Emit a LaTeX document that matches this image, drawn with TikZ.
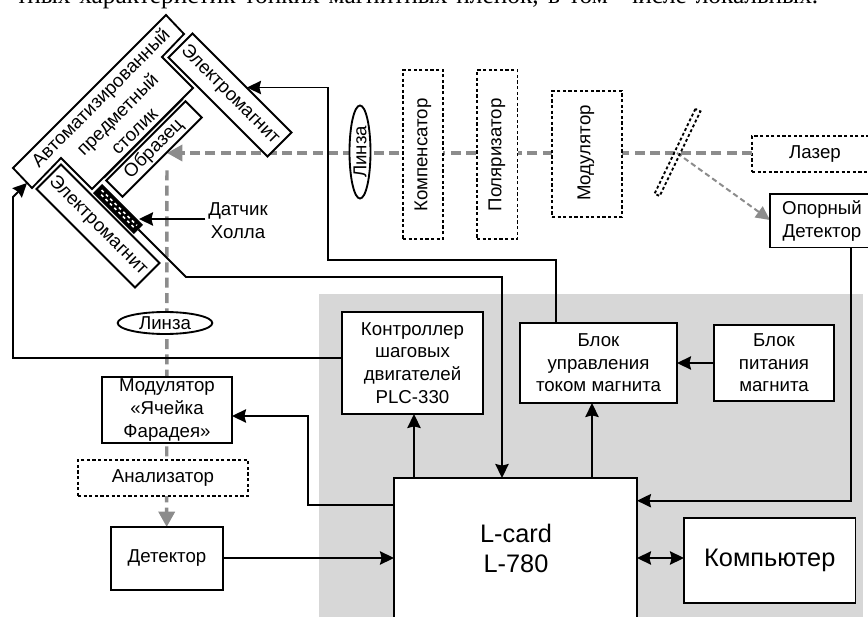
\documentclass[tikz,border=0pt]{standalone}
\usepackage{fontspec}
\setmainfont{Liberation Sans}
\newfontfamily\topfont{Liberation Serif}
\usetikzlibrary{arrows.meta,shapes.geometric,calc}
\definecolor{panel}{HTML}{D7D7D7}
\definecolor{beamgray}{HTML}{8C8C8C}
\tikzset{
  lab/.style={font=\fontsize{14}{17}\selectfont,align=center,inner sep=0pt,outer sep=0pt},
  bigb/.style={lab,draw=black,line width=1.4pt,fill=white,font=\fontsize{19}{22.5}\selectfont},
  solidb/.style={lab,draw=black,line width=1.4pt,fill=white},
  dotb/.style={lab,draw=black,line width=1.4pt,fill=white,dash pattern=on 2.4pt off 1.8pt},
  conn/.style={draw=black,line width=1.4pt,line join=miter},
  arr/.style={conn,-{Stealth[length=10.5pt,width=10pt,inset=1.2pt]}},
  barr/.style={conn,{Stealth[length=10.5pt,width=10pt,inset=1.2pt]}-{Stealth[length=10.5pt,width=10pt,inset=1.2pt]}},
  beam/.style={draw=beamgray,line width=2.6pt,dash pattern=on 7.5pt off 4pt,-{Triangle[length=11.5pt,width=12pt,fill=beamgray]}},
  beamthin/.style={draw=beamgray,line width=1.5pt,dash pattern=on 4pt off 2.5pt,-{Triangle[length=10.5pt,width=10pt,fill=beamgray]}},
}
\newcommand{\bx}[7]{%
  \pgfmathsetmacro\mw{(#4-#2)*0.75}\pgfmathsetmacro\mh{(#5-#3)*0.75}%
  \node[#6,minimum width=\mw pt,minimum height=\mh pt] (#1) at ({(#2+#4)/2},{(#3+#5)/2}) {#7};}
\begin{document}
\begin{tikzpicture}[x=0.75pt,y=-0.75pt]
\useasboundingbox (0,0) rectangle (868,617);
\clip (0,0) rectangle (868,617);
% cropped line of body text
\node[anchor=base west,inner sep=0pt] (bodytext) at (16,4) {\topfont\fontsize{19}{22}\selectfont\hbox to 601.5pt{тных характеристик тонких магнитных пленок, в том\ \ числе локальных.}};
% grey panel
\fill[panel] (319,294) rectangle (863,617);
% named points for beams and connectors
\coordinate (beamend) at (167,153);
\coordinate (mirrorc) at (677,153);
\coordinate (refin) at (770,220);
\bx{laser}{752}{136}{874}{172}{dotb}{}
\node[lab] (lasertext) at (815,154) {Лазер};
% beams
\draw[beam] (laser.west |- beamend) -- (beamend);
\draw[beam,shorten <=13pt] (beamend) -- (166.7,527);
\draw[beamthin] (mirrorc) -- (refin);
% optical elements
\node[ellipse,draw=black,line width=1.4pt,fill=white,inner sep=0pt,minimum width=93pt*0.75,minimum height=21pt*0.75,rotate=90] (lensA) at (360,152) {};
\node[lab,rotate=90] (lensAt) at (360,152) {Линза};
\bx{comp}{403}{70}{443}{239}{dotb}{}
\node[lab,rotate=90] (compt) at (423,155) {Компенсатор};
\bx{pol}{477}{70}{517.5}{239}{dotb}{}
\node[lab,rotate=90] (polt) at (497,155) {Поляризатор};
\bx{mod}{552}{91}{622}{217}{dotb}{}
\node[lab,rotate=90] (modt) at (586,153) {Модулятор};
\node[draw=black,line width=1.4pt,dash pattern=on 2.2pt off 1.8pt,inner sep=0pt,minimum width=70.5pt,minimum height=4.2pt,rotate=64.3] (mirror) at (677.5,152.5) {};
\bx{ref}{770}{194}{874}{247.5}{solidb}{}
\node[lab] (reft) at (822,221) {Опорный\\Детектор};
% stage
\draw[line width=1.4pt,fill=white,line join=miter] (166,15) -- (184,34) -- (162,57) -- (193,88) -- (92,189) -- (61,158) -- (32,188) -- (13,168) -- cycle;
\node[lab,rotate=45,font=\fontsize{14}{17.8}\selectfont] (stage) at (117,114) {Автоматизированный\\предметный\\столик};
\node[solidb,rotate=-45,minimum width=105pt,minimum height=25.5pt] (magA) at (230,95) {Электромагнит};
\node[solidb,rotate=-45,minimum width=104.5pt,minimum height=26pt] (magB) at (98,226) {Электромагнит};
\node[solidb,rotate=45,minimum width=84pt,minimum height=17.3pt] (sample) at (154,149) {Образец};
\coordinate (sa) at (183,99);
\coordinate (sb) at (104,178);
\draw[line width=0.9pt] (sa) -- (sb);
% Hall sensor
\node[draw=black,fill=black,line width=0.8pt,rotate=-45,minimum width=42.5pt,minimum height=9pt,inner sep=0pt] (hall) at (118,209) {};
\begin{scope}[shift={(hall.center)},rotate=-45]
\draw[white,line width=1.2pt,dash pattern=on 2.2pt off 2.4pt] (-25,-1.8) -- (25,-1.8);
\draw[white,line width=1.2pt,dash pattern=on 2.2pt off 2.4pt,dash phase=2.3pt] (-25,1.8) -- (25,1.8);
\end{scope}
\node[lab] (hallt) at (238,221) {Датчик\\Холла};
\coordinate (hallin) at (139,219);
% lower boxes
\node[ellipse,draw=black,line width=1.4pt,fill=white,inner sep=0pt,minimum width=71pt,minimum height=16.5pt] (lensB) at (165,323) {};
\node[lab] (lensBt) at (165,323) {Линза};
\bx{faraday}{102}{377}{232}{443}{solidb}{Модулятор\\«Ячейка\\Фарадея»}
\bx{analyz}{78}{460}{248}{496}{dotb}{Анализатор}
\bx{det}{111}{527}{223}{590}{solidb}{Детектор}
\bx{ctrl}{342}{312}{483}{414}{solidb}{Контроллер\\шаговых\\двигателей\\PLC-330}
\bx{curr}{520}{323}{677}{403}{solidb}{Блок\\управления\\током магнита}
\bx{psu}{714}{325}{834}{401}{solidb}{Блок\\питания\\магнита}
\bx{lcard}{394}{478}{637}{640}{bigb}{}
\node[lab,font=\fontsize{19}{22.5}\selectfont] (lcardt) at (516,548) {L-card\\L-780};
\bx{pc}{684}{518}{855.5}{603}{bigb}{Компьютер}
% connector way-points
\coordinate (w1) at (13,358);
\coordinate (w2) at (13,197);
\coordinate (stagein) at (27,183);
\coordinate (c1) at (414,0);
\coordinate (c2) at (592,0);
\coordinate (c3) at (556,0);
\coordinate (c4) at (502,277);
\coordinate (c5) at (186,277);
\coordinate (c6) at (328,87.5);
\coordinate (c7) at (328,260);
\coordinate (m1in) at (247,87.5);
\coordinate (f1) at (308,505);
\coordinate (f2) at (308,416);
\coordinate (r1) at (851,500.7);
\coordinate (y1) at (0,558);
\coordinate (y2) at (0,363);
% connectors
\draw[arr] (ctrl.west |- w1) -- (w1) -- (w2) -- (stagein);
\draw[arr] (lcard.north -| c1) -- (ctrl.south -| c1);
\draw[arr] (lcard.north -| c2) -- (curr.south -| c2);
\draw[arr] (curr.north -| c3) -- (c3 |- c7) -- (c7) -- (c6) -- (m1in);
\draw[arr] (hall.east) -- (c5) -- (c4) -- (lcard.north -| c4);
\draw[arr] (hallt.west |- hallin) ++(-3,0) -- (hallin);
\draw[arr] (lcard.west |- f1) -- (f1) -- (f2) -- (faraday.east |- f2);
\draw[arr] (det.east |- y1) -- (lcard.west |- y1);
\draw[arr] (psu.west |- y2) -- (curr.east |- y2);
\draw[arr] (ref.south -| r1) -- (r1) -- (lcard.east |- r1);
\draw[barr] (lcard.east |- y1) -- (pc.west |- y1);
\end{tikzpicture}
\end{document}
